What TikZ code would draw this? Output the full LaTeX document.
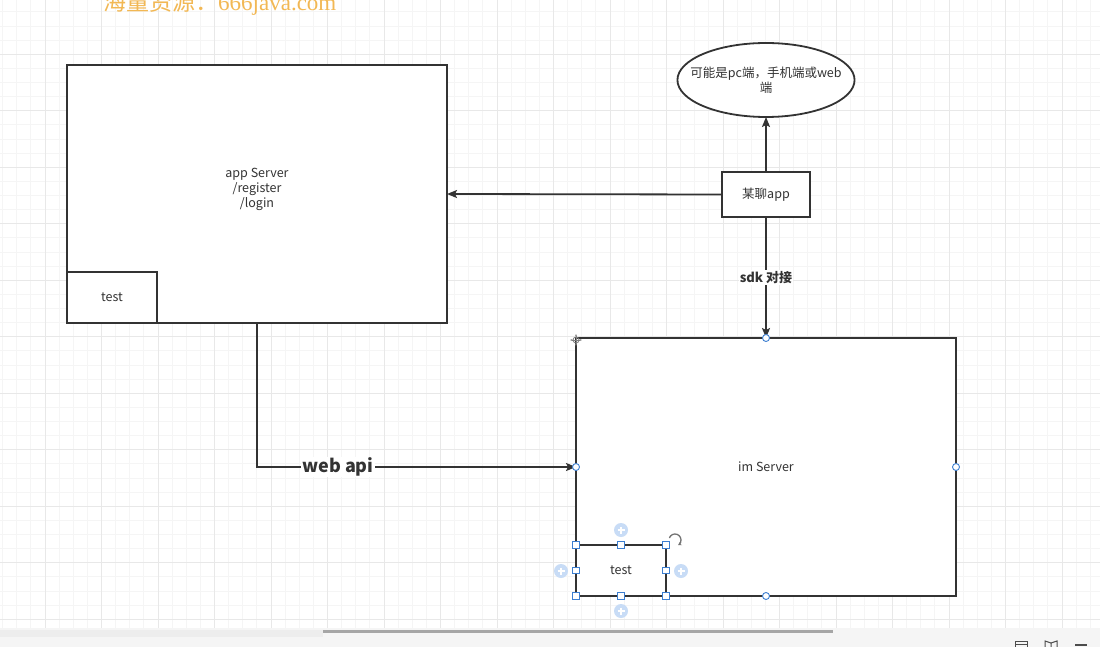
\documentclass[tikz,border=0pt]{standalone}
\usepackage{fontspec}
\setmainfont{Noto Sans CJK SC}
\newfontfamily\wmserif{Liberation Serif}
\usetikzlibrary{arrows.meta,shapes.geometric}
\definecolor{ink}{RGB}{51,51,51}
\definecolor{selblue}{RGB}{61,127,209}
\definecolor{hoverblue}{RGB}{200,220,246}
\definecolor{watermark}{RGB}{242,184,84}
\colorlet{gridminor}{black!4}
\colorlet{gridmajor}{black!9}
\tikzset{
  box/.style={draw=ink, line width=1.8pt, fill=white, rectangle, inner sep=0pt, outer sep=0pt, font=\fontsize{12.5}{15}\selectfont, text=ink, align=center},
  boxtext/.style={inner sep=0pt, font=\fontsize{12.5}{15}\selectfont, text=ink, align=center},
  arr/.style={draw=ink, line width=1.8pt, -{Stealth[length=10pt,width=8pt,inset=2pt]}},
  lbl/.style={fill=white, inner sep=1pt, text=ink, font=\bfseries},
  handle/.style={draw=selblue, fill=white, line width=0.9pt, minimum size=6.5pt, inner sep=0pt},
}

\begin{document}
\begin{tikzpicture}[x=1pt, y=-1pt]
  \useasboundingbox (0,0) rectangle (1100,647);
  \fill[white] (0,0) rectangle (1100,628);
  \begin{scope}
  \clip (0,0) rectangle (1100,628);
  \foreach \i in {-4,...,75} \draw[gridminor, line width=0.8pt] ({45+14.125*\i},0) -- ++(0,628);
  \foreach \i in {-4,...,41} \draw[gridminor, line width=0.8pt] (0,{54.2+14.125*\i}) -- ++(1100,0);
  \foreach \i in {-1,...,19} \draw[gridmajor, line width=1pt] ({45+56.5*\i},0) -- ++(0,628);
  \foreach \i in {-1,...,10} \draw[gridmajor, line width=1pt] (0,{54.2+56.5*\i}) -- ++(1100,0);
  \node[anchor=base west, inner sep=0pt, text=watermark, font=\fontsize{23}{23}\selectfont] (wm) at (103,11) {海量资源：{\wmserif 666java.com}};
  \end{scope}

  % the two servers
  \node[box, minimum width=380pt, minimum height=258pt] (appsrv) at (257,194) {};
  \node[boxtext] (appsrvtxt) at ([yshift=5pt]appsrv.center) {app Server\\/register\\/login};
  \node[box, minimum width=90pt, minimum height=51pt, anchor=south west] (apptest) at (appsrv.south west) {test};
  \node[box, minimum width=380pt, minimum height=258pt] (imsrv) at (766,467) {im Server};
  \node[box, minimum width=90pt, minimum height=51pt, anchor=south west] (imtest) at (imsrv.south west) {test};

  % client side
  \node[box, ellipse, inner xsep=-13pt, minimum width=176pt, minimum height=74pt] (client) at (766,80) {可能是pc端，手机端或web\\端};
  \node[box, minimum width=88pt, minimum height=45pt] (chatapp) at (766,194.5) {某聊app};

  \draw[arr] (chatapp) -- (client);
  \draw[arr] (chatapp.west) -- (appsrv.east);
  \draw[arr] (chatapp) -- node[lbl, font=\bfseries\fontsize{13}{13}\selectfont] (sdk) {sdk 对接} (imsrv);
  \draw[arr] (appsrv.south) |- node[lbl, pos=0.627, font=\bfseries\fontsize{18}{18}\selectfont] (webapi) {web api} (imsrv.west);

  % editor selection marks
  \foreach \p in {north,west,east,south} \draw[selblue, fill=white, line width=0.9pt] (imsrv.\p) circle (3.5pt);
  \foreach \p in {north west,north,north east,west,east,south west,south,south east} \node[handle] at (imtest.\p) {};
  \foreach \c in {(621,530),(561,571),(681,571),(621,611)} {
    \fill[hoverblue] \c circle (7pt);
    \draw[white, line width=1.2pt] \c ++(-3.5,0) -- ++(7,0) \c ++(0,-3.5) -- ++(0,7);
  }
  \draw[black!55, line width=1.3pt, -{Stealth[length=3.5pt,width=4pt]}] (675,540) ++(-160:6) arc (-160:60:6);
  \draw[black!50, line width=1pt, {Stealth[length=2.5pt]}-{Stealth[length=2.5pt]}] (570,340) -- (582,340);
  \draw[black!50, line width=1pt, {Stealth[length=2.5pt]}-{Stealth[length=2.5pt]}] (576,334) -- (576,346);
  \draw[black!50, line width=0.8pt] (576,340) circle (3pt);

  % bottom bar
  \fill[black!4] (0,628) rectangle (1100,647);
  \fill[black!7] (0,630) rectangle (323,637);
  \fill[black!35] (323,630) rectangle (833,633);
  \draw[black!70, line width=1pt] (1015,647) -- (1015,641) -- (1027,641) -- (1027,647) (1015,644) -- (1027,644);
  \draw[black!70, line width=1pt] (1045,647) -- (1045,641) -- (1051,643) -- (1057,641) -- (1057,647) (1051,643) -- (1051,647);
  \draw[black!70, line width=1.5pt] (1075,645) -- (1087,645);
\end{tikzpicture}
\end{document}
